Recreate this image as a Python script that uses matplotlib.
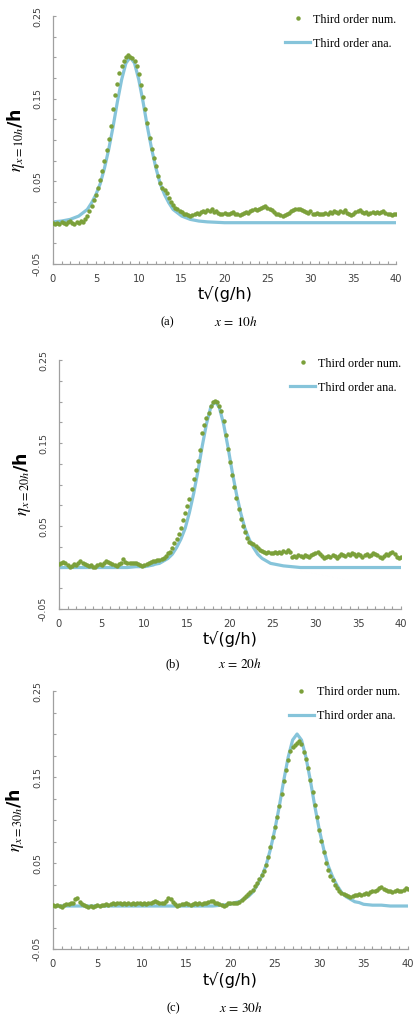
import numpy as np
import matplotlib.pyplot as plt
from matplotlib.ticker import MultipleLocator, FixedLocator

# Czas bezwymiarowy t*sqrt(g/h) dla wyników numerycznych (krok 0.25)
t_num = np.arange(0, 40.001, 0.25)

# Wyniki numeryczne, x = 10h
num_a = [0.000, -0.001, 0.000, -0.001, 0.001, 0.000, -0.002, 0.001, 0.002, 0.000, -0.001, 0.001, 0.000, 0.002, 0.001, 0.004, 0.008, 0.014, 0.020, 0.027,
         0.034, 0.042, 0.052, 0.063, 0.075, 0.088, 0.101, 0.117, 0.137, 0.154, 0.168, 0.181, 0.189, 0.195, 0.200, 0.203, 0.201, 0.199, 0.195, 0.189,
         0.180, 0.167, 0.152, 0.138, 0.121, 0.103, 0.089, 0.078, 0.068, 0.057, 0.048, 0.042, 0.040, 0.036, 0.030, 0.025, 0.021, 0.018, 0.016, 0.014,
         0.013, 0.011, 0.010, 0.009, 0.008, 0.009, 0.011, 0.012, 0.010, 0.013, 0.014, 0.013, 0.015, 0.014, 0.016, 0.013, 0.014, 0.012, 0.011, 0.010,
         0.012, 0.010, 0.011, 0.012, 0.013, 0.011, 0.010, 0.009, 0.011, 0.012, 0.013, 0.012, 0.014, 0.015, 0.016, 0.015, 0.017, 0.018, 0.019, 0.020,
         0.018, 0.016, 0.015, 0.013, 0.011, 0.010, 0.009, 0.008, 0.009, 0.011, 0.012, 0.014, 0.015, 0.016, 0.017, 0.016, 0.015, 0.014, 0.013, 0.012,
         0.014, 0.011, 0.010, 0.012, 0.011, 0.010, 0.011, 0.012, 0.011, 0.013, 0.012, 0.014, 0.013, 0.012, 0.014, 0.013, 0.015, 0.012, 0.010, 0.009,
         0.011, 0.013, 0.014, 0.015, 0.013, 0.012, 0.013, 0.011, 0.012, 0.013, 0.012, 0.013, 0.012, 0.013, 0.014, 0.012, 0.011, 0.010, 0.009, 0.011,
         0.010]

# Wyniki numeryczne, x = 20h
num_b = [0.004, 0.005, 0.007, 0.006, 0.003, 0.001, 0.002, 0.004, 0.003, 0.006, 0.008, 0.006, 0.004, 0.003, 0.002, 0.003, 0.001, 0.001, 0.003, 0.004,
         0.003, 0.006, 0.008, 0.007, 0.005, 0.004, 0.003, 0.002, 0.004, 0.006, 0.010, 0.007, 0.005, 0.006, 0.005, 0.006, 0.005, 0.004, 0.003, 0.002,
         0.003, 0.004, 0.005, 0.007, 0.008, 0.008, 0.009, 0.009, 0.010, 0.012, 0.014, 0.017, 0.019, 0.023, 0.029, 0.034, 0.040, 0.048, 0.057, 0.066,
         0.074, 0.083, 0.095, 0.107, 0.117, 0.128, 0.142, 0.162, 0.172, 0.180, 0.186, 0.195, 0.199, 0.201, 0.199, 0.195, 0.188, 0.176, 0.160, 0.143,
         0.127, 0.111, 0.097, 0.084, 0.071, 0.058, 0.050, 0.043, 0.036, 0.031, 0.029, 0.028, 0.026, 0.024, 0.021, 0.020, 0.019, 0.017, 0.019, 0.018,
         0.017, 0.019, 0.018, 0.019, 0.018, 0.020, 0.019, 0.021, 0.019, 0.013, 0.014, 0.013, 0.015, 0.014, 0.013, 0.015, 0.014, 0.013, 0.015, 0.016,
         0.018, 0.019, 0.016, 0.014, 0.012, 0.013, 0.014, 0.013, 0.015, 0.014, 0.012, 0.014, 0.016, 0.015, 0.014, 0.016, 0.015, 0.017, 0.016, 0.014,
         0.016, 0.015, 0.013, 0.015, 0.016, 0.014, 0.015, 0.017, 0.016, 0.015, 0.013, 0.012, 0.014, 0.016, 0.015, 0.017, 0.019, 0.016, 0.013, 0.011,
         0.013]

# Wyniki numeryczne, x = 30h
num_c = [0.001, 0.000, 0.001, 0.000, -0.001, 0.001, 0.002, 0.002, 0.003, 0.004, 0.008, 0.009, 0.005, 0.002, 0.001, 0.000, -0.001, 0.000, -0.001, 0.000,
         0.001, 0.000, 0.001, 0.001, 0.002, 0.001, 0.002, 0.003, 0.002, 0.003, 0.003, 0.002, 0.003, 0.002, 0.003, 0.002, 0.003, 0.002, 0.003, 0.003,
         0.002, 0.003, 0.002, 0.003, 0.003, 0.005, 0.006, 0.005, 0.004, 0.003, 0.004, 0.006, 0.009, 0.008, 0.005, 0.002, 0.000, 0.001, 0.002, 0.002,
         0.003, 0.002, 0.001, 0.002, 0.003, 0.002, 0.003, 0.002, 0.003, 0.004, 0.005, 0.006, 0.006, 0.004, 0.003, 0.002, 0.001, 0.000, 0.001, 0.003,
         0.004, 0.003, 0.004, 0.003, 0.005, 0.007, 0.009, 0.012, 0.014, 0.016, 0.019, 0.023, 0.027, 0.031, 0.036, 0.041, 0.048, 0.057, 0.069, 0.080,
         0.092, 0.104, 0.116, 0.130, 0.145, 0.158, 0.170, 0.180, 0.185, 0.187, 0.189, 0.192, 0.188, 0.179, 0.171, 0.160, 0.147, 0.132, 0.118, 0.103,
         0.088, 0.076, 0.063, 0.050, 0.042, 0.035, 0.030, 0.025, 0.021, 0.017, 0.015, 0.014, 0.013, 0.012, 0.011, 0.012, 0.013, 0.013, 0.014, 0.013,
         0.014, 0.015, 0.014, 0.016, 0.017, 0.018, 0.019, 0.021, 0.022, 0.020, 0.019, 0.018, 0.017, 0.016, 0.018, 0.019, 0.018, 0.017, 0.019, 0.021,
         0.020]

# Rozwiązanie analityczne (trzeci rząd)
ana_t_a = [0, 1, 2, 3, 4, 4.5, 5, 5.5, 6, 6.5, 7, 7.5, 8, 8.5, 9, 9.5, 10, 10.5, 11, 11.5, 12, 12.5, 13, 13.5, 14, 15, 16, 17, 18, 20, 25, 30, 35, 40]
ana_a = [0.001, 0.002, 0.004, 0.008, 0.016, 0.024, 0.034, 0.047, 0.066, 0.089, 0.116, 0.146, 0.173, 0.193, 0.200, 0.193, 0.173, 0.146, 0.116, 0.089,
         0.066, 0.047, 0.034, 0.024, 0.016, 0.008, 0.004, 0.002, 0.001, 0.000, 0.000, 0.000, 0.000, 0.000]

ana_t_b = [0, 5, 8, 9, 10, 11, 11.25, 11.75, 12.25, 12.75, 13.25, 13.75, 14.25, 14.75, 15.25, 15.75, 16.25, 16.75, 17.25, 17.75, 18.25,
           18.75, 19.25, 19.75, 20.25, 20.75, 21.25, 21.75, 22.25, 22.75, 23.25, 23.75, 24.25, 24.75, 25.25, 26.25, 27.25, 28.25, 30, 35, 40]
ana_b = [0.000, 0.000, 0.000, 0.001, 0.001, 0.003, 0.004, 0.005, 0.008, 0.011, 0.016, 0.024, 0.034, 0.047, 0.066, 0.089, 0.116, 0.146, 0.173, 0.193, 0.200,
         0.193, 0.173, 0.146, 0.116, 0.089, 0.066, 0.047, 0.034, 0.024, 0.016, 0.011, 0.008, 0.005, 0.004, 0.002, 0.001, 0.000, 0.000, 0.000, 0.000]

ana_t_c = [0, 10, 15, 18, 19, 20, 20.5, 21, 21.5, 22, 22.5, 23, 23.5, 24, 24.5, 25, 25.5, 26, 26.5, 27, 27.5,
           28, 28.5, 29, 29.5, 30, 30.5, 31, 31.5, 32, 32.5, 33, 33.5, 34, 34.5, 35, 36, 37, 38, 40]
ana_c = [0.000, 0.000, 0.000, 0.000, 0.001, 0.002, 0.004, 0.005, 0.008, 0.011, 0.016, 0.024, 0.034, 0.047, 0.066, 0.089, 0.116, 0.146, 0.173, 0.193, 0.200,
         0.193, 0.173, 0.146, 0.116, 0.089, 0.066, 0.047, 0.034, 0.024, 0.016, 0.011, 0.008, 0.005, 0.004, 0.002, 0.001, 0.001, 0.000, 0.000]

panels = [
    (num_a, ana_t_a, ana_a, '10', '(a)'),
    (num_b, ana_t_b, ana_b, '20', '(b)'),
    (num_c, ana_t_c, ana_c, '30', '(c)'),
]

plt.rcParams['mathtext.fontset'] = 'stix'

fig = plt.figure(figsize=(4.14, 10.21), dpi=100)

# położenie osi [lewo, dół, szerokość, wysokość] w ułamkach figury
boxes = [
    [0.128, 0.7414, 0.829, 0.2429],
    [0.1425, 0.4035, 0.826, 0.2439],
    [0.128, 0.0705, 0.8575, 0.2527],
]
legend_pos = [(0.676, 1.01), (0.675, 1.01), (0.664, 1.02)]
caption_pos = [(0.405, 0.570, 0.6846), (0.418, 0.580, 0.3497), (0.418, 0.582, 0.0127)]

green = '#7ba03a'
blue = '#86c4da'
gray = '#a0a0a0'

for i, (num, ana_t, ana, pos, tag) in enumerate(panels):
    ax = fig.add_axes(boxes[i])
    ax.plot(t_num, num, 'o', color=green, markersize=3.2, markeredgewidth=0,
            label='Third order num.', zorder=3)
    ax.plot(ana_t, ana, '-', color=blue, linewidth=2.3,
            label='Third order ana.', zorder=2)

    ax.set_xlim(0, 40)
    ax.set_ylim(-0.05, 0.25)
    ax.xaxis.set_major_locator(MultipleLocator(5))
    ax.xaxis.set_minor_locator(MultipleLocator(1))
    ax.yaxis.set_major_locator(FixedLocator([-0.05, 0.05, 0.15, 0.25]))
    ax.yaxis.set_minor_locator(MultipleLocator(0.025))
    ax.set_yticklabels(['-0.05', '0.05', '0.15', '0.25'], rotation=90, va='center')

    for s in ['top', 'right']:
        ax.spines[s].set_visible(False)
    for s in ['left', 'bottom']:
        ax.spines[s].set_color(gray)
        ax.spines[s].set_linewidth(0.9)

    ax.tick_params(axis='both', which='both', direction='in', color=gray,
                   labelcolor='#404040', width=0.8)
    ax.tick_params(axis='x', which='both', length=2, pad=7, labelsize=7.2)
    ax.tick_params(axis='y', which='both', length=2.5, pad=8, labelsize=6.8)

    ax.set_xlabel('t√(g/h)', fontsize=11.5)
    ax.xaxis.set_label_coords(0.5, -0.09)
    ax.set_ylabel(r'$\eta_{x=' + pos + 'h}$/h', fontsize=12.5, fontweight='bold')
    ax.yaxis.set_label_coords(-0.075, 0.5)

    ax.legend(loc='upper left', bbox_to_anchor=legend_pos[i], frameon=False,
              borderpad=0, borderaxespad=0, handlelength=2.1, handletextpad=0.2,
              labelspacing=1.0, prop={'family': 'Liberation Serif', 'size': 8.7})

    cx1, cx2, cy = caption_pos[i]
    fig.text(cx1, cy, tag, ha='center', va='center', fontsize=9, family='Liberation Serif')
    fig.text(cx2, cy, r'$x\,=\,' + pos + 'h$', ha='center', va='center', fontsize=9.5)

plt.savefig('out.png', dpi=100)
